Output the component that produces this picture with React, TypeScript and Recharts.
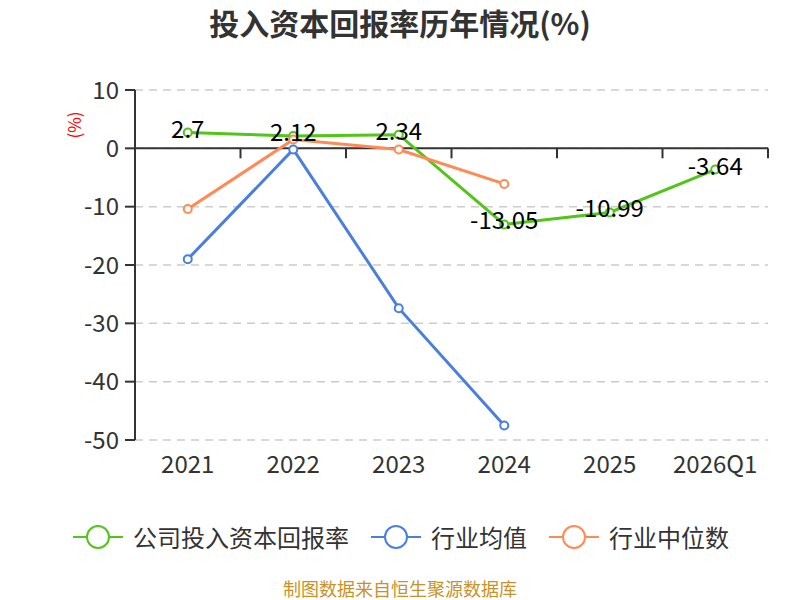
import React from "react";
import {
  LineChart,
  Line,
  XAxis,
  YAxis,
  CartesianGrid,
  ReferenceLine,
  LabelList,
} from "recharts";

const years = ["2021", "2022", "2023", "2024", "2025", "2026Q1"];
const companyRoic = [2.7, 2.12, 2.34, -13.05, -10.99, -3.64];
const industryAvg = [-19.0, -0.2, -27.4, -47.5, null, null];
const industryMedian = [-10.4, 1.5, -0.2, -6.1, null, null];
const yTicks = [-50, -40, -30, -20, -10, 0, 10];

const SERIES = [
  { key: "company", name: "公司投入资本回报率", color: "#52C41A" },
  { key: "avg", name: "行业均值", color: "#4A7FE0" },
  { key: "median", name: "行业中位数", color: "#FF8A55" },
];

const FONT = '"Noto Sans CJK SC", "Noto Sans", sans-serif';

// half a category band on each side so points sit in the band centres
const BAND_PAD = 633 / years.length / 2;

const chartData = years.map((year, i) => ({
  year,
  company: companyRoic[i],
  avg: industryAvg[i],
  median: industryMedian[i],
}));

// zero axis line with tick marks between categories
const ZeroAxis = (props: any) => {
  const { x1, x2, y1 } = props;
  const n = years.length;
  const step = (x2 - x1) / n;
  return (
    <g>
      <line x1={x1} y1={y1} x2={x2} y2={y1} stroke="#333" strokeWidth={2} />
      {years.map((_, i) => (
        <line
          key={i}
          x1={x1 + step * (i + 1)}
          x2={x1 + step * (i + 1)}
          y1={y1}
          y2={y1 + 10}
          stroke="#333"
          strokeWidth={2}
        />
      ))}
    </g>
  );
};

const renderValueLabel = (props: any) => {
  const { x, y, value } = props;
  if (value == null) return null;
  return (
    <text
      x={x}
      y={y + 5}
      textAnchor="middle"
      fontSize={24}
      fill="#000"
      fontFamily={FONT}
    >
      {value}
    </text>
  );
};

const LegendIcon = ({ color }: { color: string }) => (
  <svg width={50} height={26} style={{ display: "block" }}>
    <line x1={0} y1={13} x2={50} y2={13} stroke={color} strokeWidth={2} />
    <circle cx={25} cy={13} r={11} fill="#fff" stroke={color} strokeWidth={2} />
  </svg>
);

export default function App() {
  return (
    <div
      style={{
        position: "relative",
        width: 800,
        height: 600,
        background: "#fff",
        fontFamily: FONT,
      }}
    >
      <style>{"body{margin:0}"}</style>
      <div
        style={{
          position: "absolute",
          top: 4,
          left: 0,
          width: 800,
          textAlign: "center",
          fontSize: 30,
          fontWeight: "bold",
          color: "#333",
          lineHeight: "36px",
        }}
      >
        投入资本回报率历年情况(%)
      </div>
      <div
        style={{
          position: "absolute",
          left: 73,
          top: 125,
          transform: "translate(-50%, -50%) rotate(-90deg)",
          color: "#ff0000",
          fontSize: 17,
          whiteSpace: "nowrap",
        }}
      >
        (%)
      </div>
      <LineChart
        width={800}
        height={600}
        data={chartData}
        margin={{ top: 90, right: 32, bottom: 130, left: 0 }}
      >
        <CartesianGrid
          vertical={false}
          stroke="#ccc"
          strokeWidth={1.5}
          strokeDasharray="8 6"
        />
        <XAxis
          dataKey="year"
          axisLine={false}
          tickLine={false}
          height={30}
          tickMargin={10}
          padding={{ left: BAND_PAD, right: BAND_PAD }}
          tick={{ fontSize: 24, fill: "#333", fontFamily: FONT }}
          interval={0}
        />
        <YAxis
          width={135}
          domain={[-50, 10]}
          ticks={yTicks}
          interval={0}
          tickSize={10}
          tickMargin={6}
          axisLine={{ stroke: "#333", strokeWidth: 2 }}
          tickLine={{ stroke: "#333", strokeWidth: 2 }}
          tick={{ fontSize: 24, fill: "#333", fontFamily: FONT }}
        />
        <ReferenceLine y={0} shape={ZeroAxis} />
        {SERIES.map((s) => (
          <Line
            key={s.key}
            type="linear"
            dataKey={s.key}
            name={s.name}
            stroke={s.color}
            strokeWidth={3}
            dot={{ r: 4, fill: "#fff", stroke: s.color, strokeWidth: 2 }}
            activeDot={false}
            isAnimationActive={false}
          >
            {s.key === "company" && (
              <LabelList dataKey="company" content={renderValueLabel} />
            )}
          </Line>
        ))}
      </LineChart>
      <div
        style={{
          position: "absolute",
          top: 524,
          left: 73,
          display: "flex",
          alignItems: "center",
          height: 26,
        }}
      >
        {SERIES.map((s, i) => (
          <div
            key={s.key}
            style={{
              display: "flex",
              alignItems: "center",
              marginLeft: i === 0 ? 0 : 22,
            }}
          >
            <LegendIcon color={s.color} />
            <span
              style={{
                marginLeft: 10,
                fontSize: 24,
                color: "#333",
                lineHeight: "26px",
                whiteSpace: "nowrap",
              }}
            >
              {s.name}
            </span>
          </div>
        ))}
      </div>
      <div
        style={{
          position: "absolute",
          top: 576,
          left: 0,
          width: 800,
          textAlign: "center",
          fontSize: 18,
          color: "#C8922A",
          lineHeight: "24px",
        }}
      >
        制图数据来自恒生聚源数据库
      </div>
    </div>
  );
}
